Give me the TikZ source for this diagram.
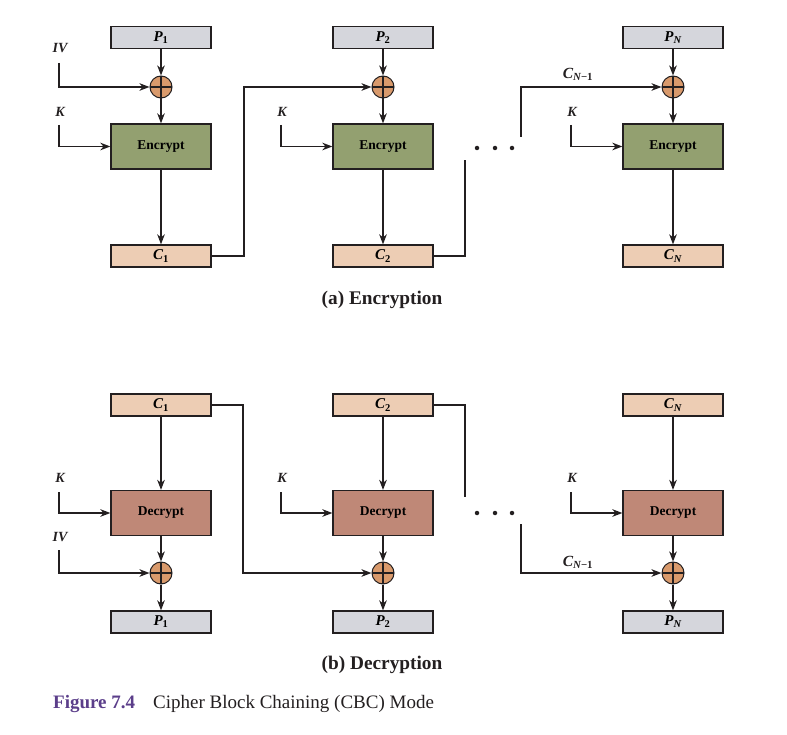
\documentclass[tikz,border=0pt]{standalone}
\usepackage{fontspec}
\setmainfont{Liberation Serif}
\usetikzlibrary{arrows.meta}
\definecolor{pgray}{HTML}{D5D6DC}
\definecolor{cpeach}{HTML}{EDCDB4}
\definecolor{egreen}{HTML}{93A070}
\definecolor{dred}{HTML}{BF8877}
\definecolor{xorc}{HTML}{D99A6C}
\definecolor{figpurple}{HTML}{5B3E8A}
\definecolor{ink}{HTML}{231F20}
\tikzset{
  blk/.style={draw=ink, line width=1.2pt, minimum width=100pt, minimum height=22pt, inner sep=0pt, font=\fontsize{15}{15}\selectfont\bfseries\itshape},
  pbox/.style={blk, fill=pgray},
  cbox/.style={blk, fill=cpeach},
  encbox/.style={draw=ink, line width=1.2pt, fill=egreen, minimum width=100pt, minimum height=45pt, inner sep=0pt, font=\fontsize{13.5}{13.5}\selectfont\bfseries},
  decbox/.style={encbox, fill=dred},
  xor/.style={circle, draw=ink, line width=1pt, fill=xorc, minimum size=22pt, inner sep=0pt,
    path picture={\draw[line width=1.8pt, ink] (path picture bounding box.north) -- (path picture bounding box.south)
      (path picture bounding box.west) -- (path picture bounding box.east);}},
  conn/.style={line width=1.6pt, draw=ink, -{Stealth[length=10pt,width=7.5pt,inset=3pt]}},
  wire/.style={line width=1.6pt, draw=ink},
  lbl/.style={font=\fontsize{14}{14}\selectfont\bfseries\itshape, inner sep=0pt, text=ink},
  dotc/.style={circle, fill=ink, minimum size=4.5pt, inner sep=0pt},
  title/.style={font=\fontsize{19.3}{19.3}\selectfont\bfseries, text=ink, inner sep=0pt},
}
\newcommand{\sbs}[1]{\textsubscript{\upshape #1}}
\begin{document}
\begin{tikzpicture}[x=1pt,y=-1pt]
\useasboundingbox (0,0) rectangle (787,735);
% ===== Encryption =====
\node[pbox] (P1) at (161,37.5) {P\sbs{1}};
\node[pbox] (P2) at (383,37.5) {P\sbs{2}};
\node[pbox] (PN) at (673,37.5) {P\textsubscript{\itshape N}};
\node[xor] (X1) at (161,87) {};
\node[xor] (X2) at (383,87) {};
\node[xor] (XN) at (673,87) {};
\node[encbox] (E1) at (161,146.5) {Encrypt};
\node[encbox] (E2) at (383,146.5) {Encrypt};
\node[encbox] (EN) at (673,146.5) {Encrypt};
\node[cbox] (C1) at (161,256) {C\sbs{1}};
\node[cbox] (C2) at (383,256) {C\sbs{2}};
\node[cbox] (CN) at (673,256) {C\textsubscript{\itshape N}};
\node[lbl] (ivA) at (60,48) {IV};
\node[lbl] (kA1) at (60,112) {K};
\node[lbl] (kA2) at (282,112) {K};
\node[lbl] (kAN) at (572,112) {K};
\node[lbl, font=\fontsize{15.5}{15.5}\selectfont\bfseries\itshape] (cnA) at (578,74) {C\textsubscript{\itshape N\upshape −1}};
\coordinate (ivAs) at (59,63);
\coordinate (kA1s) at (59,125);
\coordinate (kA2s) at (281,125);
\coordinate (kANs) at (571,125);
\coordinate (bendA1) at (244,256);
\coordinate (bendA2) at (465,256);
\coordinate (endA2) at (465,160);
\coordinate (startAN) at (521,137);
\node[dotc] (dA1) at (477,148) {};
\node[dotc] (dA2) at (495,148) {};
\node[dotc] (dA3) at (512,148) {};
\draw[conn] (P1.south) -- (X1.north);
\draw[conn] (X1.south) -- (E1.north);
\draw[conn, line width=2pt] (E1.south) -- (C1.north);
\draw[conn] (P2.south) -- (X2.north);
\draw[conn] (X2.south) -- (E2.north);
\draw[conn] (E2.south) -- (C2.north);
\draw[conn] (PN.south) -- (XN.north);
\draw[conn] (XN.south) -- (EN.north);
\draw[conn] (EN.south) -- (CN.north);
\draw[conn] (ivAs) |- (X1.west);
\draw[conn] (kA1s) |- (E1.west);
\draw[conn] (kA2s) |- (E2.west);
\draw[conn] (kANs) |- (EN.west);
\draw[conn] (C1.east) -- (bendA1) |- (X2.west);
\draw[wire] (C2.east) -- (bendA2) -- (endA2);
\draw[conn] (startAN) |- (XN.west);
\node[title] (ta) at (382,300) {(a) Encryption};
% ===== Decryption =====
\node[cbox] (DC1) at (161,405) {C\sbs{1}};
\node[cbox] (DC2) at (383,405) {C\sbs{2}};
\node[cbox] (DCN) at (673,405) {C\textsubscript{\itshape N}};
\node[decbox] (D1) at (161,513) {Decrypt};
\node[decbox] (D2) at (383,513) {Decrypt};
\node[decbox] (DN) at (673,513) {Decrypt};
\node[xor] (DX1) at (161,573) {};
\node[xor] (DX2) at (383,573) {};
\node[xor] (DXN) at (673,573) {};
\node[pbox] (DP1) at (161,622) {P\sbs{1}};
\node[pbox] (DP2) at (383,622) {P\sbs{2}};
\node[pbox] (DPN) at (673,622) {P\textsubscript{\itshape N}};
\node[lbl] (kB1) at (60,478) {K};
\node[lbl] (kB2) at (282,478) {K};
\node[lbl] (kBN) at (572,478) {K};
\node[lbl] (ivB) at (60,537) {IV};
\node[lbl, font=\fontsize{15.5}{15.5}\selectfont\bfseries\itshape] (cnB) at (578,562) {C\textsubscript{\itshape N\upshape −1}};
\coordinate (kB1s) at (59,492);
\coordinate (kB2s) at (281,492);
\coordinate (kBNs) at (571,492);
\coordinate (ivBs) at (59,550);
\coordinate (bendB1) at (243,405);
\coordinate (bendB2) at (465,405);
\coordinate (endB2) at (465,497);
\coordinate (startBN) at (521,524);
\node[dotc] (dB1) at (477,513) {};
\node[dotc] (dB2) at (495,513) {};
\node[dotc] (dB3) at (512,513) {};
\draw[conn] (DC1.south) -- (D1.north);
\draw[conn] (D1.south) -- (DX1.north);
\draw[conn] (DX1.south) -- (DP1.north);
\draw[conn] (DC2.south) -- (D2.north);
\draw[conn] (D2.south) -- (DX2.north);
\draw[conn] (DX2.south) -- (DP2.north);
\draw[conn] (DCN.south) -- (DN.north);
\draw[conn] (DN.south) -- (DXN.north);
\draw[conn] (DXN.south) -- (DPN.north);
\draw[conn] (kB1s) |- (D1.west);
\draw[conn] (kB2s) |- (D2.west);
\draw[conn] (kBNs) |- (DN.west);
\draw[conn] (ivBs) |- (DX1.west);
\draw[conn] (DC1.east) -- (bendB1) |- (DX2.west);
\draw[wire] (DC2.east) -- (bendB2) -- (endB2);
\draw[conn] (startBN) |- (DXN.west);
\node[title] (tb) at (382,665) {(b) Decryption};
% ===== Caption =====
\node[anchor=base west, inner sep=0pt, font=\fontsize{19}{19}\selectfont\bfseries, text=figpurple] (fig) at (53,708) {Figure 7.4};
\node[anchor=base west, inner sep=0pt, font=\fontsize{19}{19}\selectfont, text=ink] (cap) at (153,708) {Cipher Block Chaining (CBC) Mode};
\end{tikzpicture}
\end{document}
